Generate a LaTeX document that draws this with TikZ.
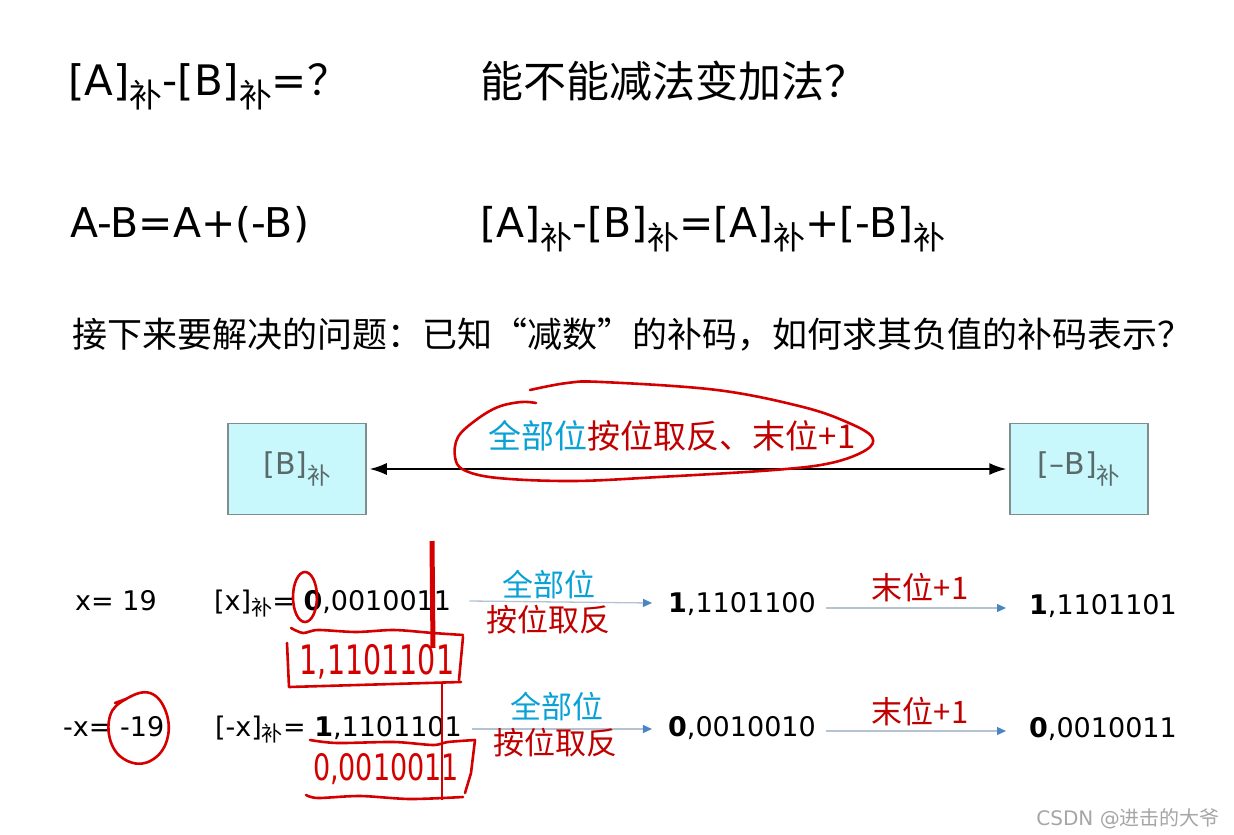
\documentclass[tikz,border=0pt]{standalone}
\usepackage{fontspec}
\usepackage{xcolor}
\usepackage{graphicx}
\usetikzlibrary{arrows.meta}
\setmainfont{DejaVu Sans}
\newfontfamily\cjk{Noto Sans CJK SC}

\definecolor{bluetxt}{HTML}{0AA2D6}
\definecolor{redtxt}{HTML}{C00000}
\definecolor{penred}{HTML}{D40000}
\definecolor{boxfill}{HTML}{C8F8FC}
\definecolor{boxline}{HTML}{7F8F8F}
\definecolor{boxtxt}{HTML}{5A6A6A}
\definecolor{flowline}{HTML}{B4C2D2}
\definecolor{flowtip}{HTML}{4A86C4}

% subscript "bu" and font size helpers
\newcommand{\bu}[1][-0.3em]{\raisebox{#1}{\scalebox{0.78}{\cjk 补}}}
\newcommand{\fs}[1]{\fontsize{#1}{#1}\selectfont}

\begin{document}
\begin{tikzpicture}[x=1pt, y=-1pt,
    txt/.style={inner sep=0pt, anchor=base west},
    val/.style={inner sep=0pt, text height=20pt, text depth=2pt, font=\fs{27}},
    flow/.style={flowline, line width=1.3pt, -{Triangle[length=9pt, width=8pt, color=flowtip]}},
    ink/.style={penred, line width=2.6pt, line cap=round, line join=round},
    bbox/.style={draw=boxline, line width=1.5pt, fill=boxfill, minimum width=138pt,
                 minimum height=91pt, text=boxtxt, font=\fs{30}}]
    \fill[white] (0,0) rectangle (1234,835);
    \useasboundingbox (0,0) rectangle (1234,835);

    % top lines
    \node[txt, font=\fs{42}] (q) at (68,95) {[A]\bu-[B]\bu={\cjk ？}};
    \node[txt, font=\fs{43}\cjk] (ask) at (480,97) {能不能减法变加法？};
    \node[txt, font=\fs{41}] (eq) at (70,237) {A-B=A+(-B)};
    \node[txt, font=\fs{41}] (eqc) at (480,237) {[A]\bu-[B]\bu=[A]\bu+[-B]\bu};
    \node[txt, font=\fs{35}\cjk] (todo) at (72,347) {接下来要解决的问题：已知“减数”的补码，如何求其负值的补码表示？};

    % the two boxes
    \node[bbox] (bc) at (297,469) {[B]\bu[-0.35em]};
    \node[bbox] (nbc) at (1079,469) {[–B]\bu[-0.35em]};
    \draw[{Latex[length=17pt,width=12pt]}-{Latex[length=17pt,width=12pt]}, line width=1.5pt,
          shorten <=3pt, shorten >=3pt] (bc) -- (nbc);
    \node[font=\fs{33}\cjk, inner sep=0pt] (rule) at (672,436)
        {\textcolor{bluetxt}{全部位}\textcolor{redtxt}{按位取反、末位+1}};
    \draw[ink] plot[smooth, tension=0.6] coordinates {(536,403) (521,402) (498,407) (476,420)
        (458,437) (455,457) (464,470) (498,478) (573,481) (659,477) (774,470) (831,463)
        (866,450) (872,437) (849,423) (803,407) (717,390) (602,382) (567,383) (530,390)};

    % row 1
    \node[val, anchor=west] (x1) at (75,601) {x= 19};
    \node[val, anchor=west] (xc) at (214,601) {[x]\bu[-0.22em]= \textbf{0},0010011};
    \node[val] (n1) at (742,603) {\textbf{1},1101100};
    \node[val] (n2) at (1103,605) {\textbf{1},1101101};
    \draw[flow] ([xshift=18pt]xc.east) -- ([xshift=-16pt]n1.west);
    \draw[flow] ([xshift=10pt, yshift=-5pt]n1.east) -- ([xshift=-23pt, yshift=-3pt]n2.west);
    \node[font=\fs{31}\cjk, text=bluetxt, inner sep=0pt] (all1) at (549,585) {全部位};
    \node[font=\fs{31}\cjk, text=redtxt, inner sep=0pt] (inv1) at (548,620) {按位取反};
    \node[font=\fs{31}\cjk, text=redtxt, inner sep=0pt] (add1) at (920,588) {末位+1};

    % row 2
    \node[val, anchor=west] (x2) at (63,727) {-x= -19};
    \node[val, anchor=west] (xnc) at (215,727) {[-x]\bu[-0.22em]= \textbf{1},1101101};
    \node[val] (m1) at (742,727) {\textbf{0},0010010};
    \node[val] (m2) at (1103,728) {\textbf{0},0010011};
    \draw[flow] ([xshift=10pt, yshift=-2pt]xnc.east) -- ([xshift=-16pt, yshift=-2pt]m1.west);
    \draw[flow] ([xshift=10pt, yshift=-4pt]m1.east) -- ([xshift=-23pt, yshift=-3pt]m2.west);
    \node[font=\fs{31}\cjk, text=bluetxt, inner sep=0pt] (all2) at (557,707) {全部位};
    \node[font=\fs{31}\cjk, text=redtxt, inner sep=0pt] (inv2) at (555,743) {按位取反};
    \node[font=\fs{31}\cjk, text=redtxt, inner sep=0pt] (add2) at (920,712) {末位+1};

    % hand marks, row 1
    \draw[ink] (305,597) ellipse [x radius=12, y radius=25];
    \draw[penred, line width=5pt] (432,541) -- (433,648);
    \draw[ink] plot[smooth] coordinates {(291,628) (303,633) (318,630) (356,632) (394,630) (433,633) (463,635)};
    \draw[ink] (287,643) -- (289,687) -- (461,682);
    \draw[ink] (463,637) -- (459,680);
    \node[text=penred, font=\fs{28}, inner sep=0pt] (hw1) at (377,662) {\scalebox{1.02}[1.45]{1,1101101}};

    % hand marks, row 2
    \draw[ink] plot[smooth cycle, tension=0.7] coordinates {(126,699) (150,693) (166,712) (167,740)
        (152,760) (130,762) (112,745) (110,716)};
    \draw[ink] (115,703) -- (126,699);
    \draw[penred, line width=2.2pt] (442,683) -- (442,800);
    \draw[ink] plot[smooth] coordinates {(310,740) (337,743) (394,742) (433,745) (448,742) (475,740)};
    \draw[ink] (475,740) -- (471,773) -- (465,793);
    \draw[ink] plot[smooth] coordinates {(306,795) (318,798) (360,796) (410,799) (463,797)};
    \node[text=penred, font=\fs{27}, inner sep=0pt] (hw2) at (386,769) {\scalebox{1.0}[1.35]{0,0010011}};

    % watermark
    \node[anchor=base east, inner sep=0pt, text=gray!70, font=\fs{20}] (mark) at (1220,825)
        {CSDN @{\cjk 进击的大爷}};
\end{tikzpicture}
\end{document}
